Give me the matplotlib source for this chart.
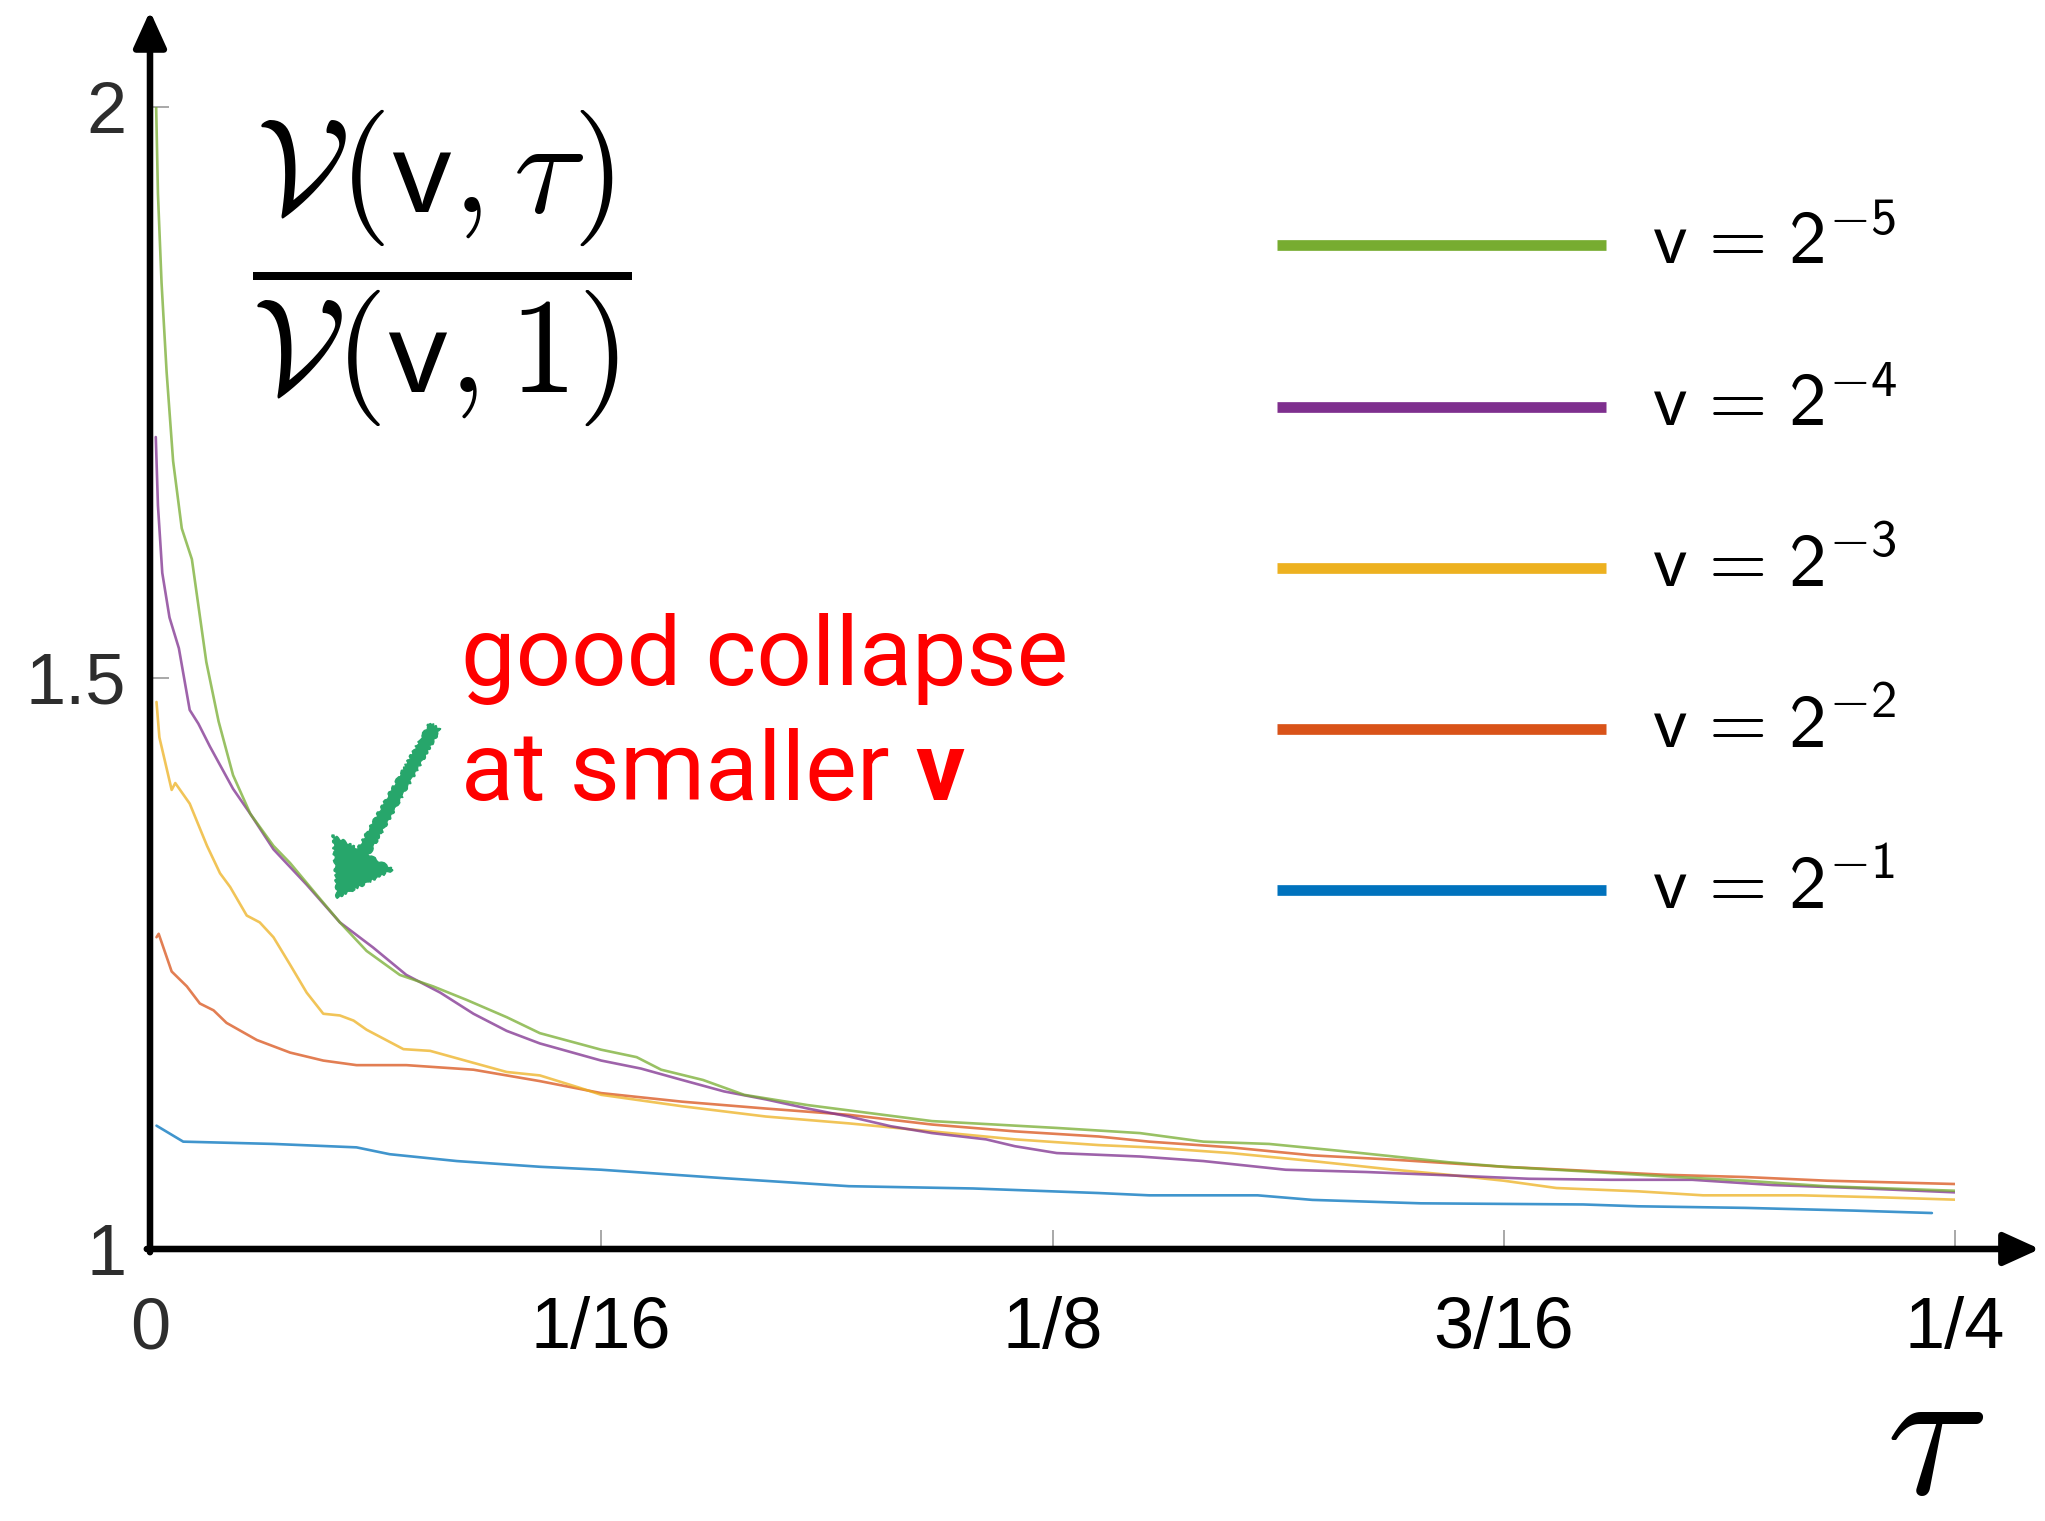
import matplotlib
matplotlib.use("Agg")
import matplotlib.pyplot as plt
from matplotlib.lines import Line2D

# ---- data: normalised variance V(v, tau) / V(v, 1) against tau ----
tau_g = [0.0008, 0.0011, 0.0016, 0.0023, 0.0032, 0.0044, 0.0058, 0.0078, 0.0095, 0.0115,
         0.0139, 0.0171, 0.0194, 0.0231, 0.0263, 0.0300, 0.0346, 0.0392, 0.0439, 0.0494,
         0.0540, 0.0625, 0.0674, 0.0708, 0.0766, 0.0823, 0.0911, 0.0997, 0.1083, 0.1170,
         0.1256, 0.1371, 0.1459, 0.1550, 0.1647, 0.1723, 0.1798, 0.1875, 0.1985, 0.2098,
         0.2210, 0.2323, 0.2500]
val_g = [2.016, 1.924, 1.846, 1.768, 1.690, 1.631, 1.604, 1.514, 1.462, 1.415,
         1.381, 1.353, 1.338, 1.310, 1.286, 1.261, 1.240, 1.230, 1.218, 1.203,
         1.189, 1.1745, 1.168, 1.157, 1.148, 1.135, 1.126, 1.119, 1.112, 1.109,
         1.106, 1.1015, 1.094, 1.092, 1.086, 1.081, 1.076, 1.072, 1.068, 1.0636,
         1.0598, 1.0549, 1.051]

tau_p = [0.0008, 0.0011, 0.0017, 0.0027, 0.0040, 0.0055, 0.0067, 0.0083, 0.0115, 0.0139,
         0.0171, 0.0217, 0.0263, 0.0309, 0.0355, 0.0402, 0.0448, 0.0494, 0.0540, 0.0625,
         0.0680, 0.0737, 0.0795, 0.0853, 0.0911, 0.0968, 0.1026, 0.1083, 0.1158, 0.1198,
         0.1256, 0.1371, 0.1459, 0.1573, 0.1685, 0.1798, 0.1910, 0.2023, 0.2136, 0.2248,
         0.2361, 0.2500]
val_p = [1.711, 1.651, 1.592, 1.553, 1.526, 1.472, 1.460, 1.440, 1.403, 1.381,
         1.350, 1.319, 1.286, 1.264, 1.240, 1.2245, 1.206, 1.191, 1.180, 1.165,
         1.158, 1.148, 1.138, 1.131, 1.123, 1.116, 1.1075, 1.1015, 1.096, 1.090,
         1.084, 1.081, 1.077, 1.0694, 1.0674, 1.0645, 1.0615, 1.0606, 1.0606, 1.056,
         1.0534, 1.0496]

tau_y = [0.0009, 0.0013, 0.0030, 0.0035, 0.0055, 0.0079, 0.0097, 0.0111, 0.0134, 0.0152,
         0.0171, 0.0194, 0.0217, 0.0240, 0.0263, 0.0282, 0.0300, 0.0351, 0.0388, 0.0448,
         0.0494, 0.0540, 0.0596, 0.0625, 0.0737, 0.0853, 0.0968, 0.1083, 0.1198, 0.1314,
         0.1384, 0.1497, 0.1610, 0.1723, 0.1798, 0.1875, 0.1948, 0.2061, 0.2151, 0.2286,
         0.2399, 0.2500]
val_y = [1.479, 1.448, 1.402, 1.408, 1.390, 1.353, 1.329, 1.317, 1.292, 1.286,
         1.273, 1.249, 1.2245, 1.206, 1.2045, 1.200, 1.192, 1.175, 1.1735, 1.163,
         1.155, 1.152, 1.141, 1.135, 1.125, 1.116, 1.110, 1.103, 1.096, 1.091,
         1.089, 1.084, 1.077, 1.0694, 1.065, 1.0598, 1.0534, 1.0505, 1.047, 1.047,
         1.0452, 1.0432]

tau_o = [0.0009, 0.0012, 0.0030, 0.0051, 0.0069, 0.0088, 0.0106, 0.0148, 0.0194, 0.0240,
         0.0286, 0.0355, 0.0448, 0.0540, 0.0625, 0.0737, 0.0853, 0.0968, 0.1083, 0.1198,
         0.1314, 0.1384, 0.1497, 0.1610, 0.1723, 0.1875, 0.1985, 0.2098, 0.2210, 0.2323,
         0.2500]
val_o = [1.273, 1.276, 1.243, 1.230, 1.215, 1.209, 1.198, 1.183, 1.172, 1.165,
         1.161, 1.161, 1.157, 1.147, 1.1365, 1.129, 1.123, 1.1175, 1.109, 1.103,
         1.0985, 1.094, 1.089, 1.082, 1.0782, 1.072, 1.0686, 1.065, 1.063, 1.0598,
         1.0569]

tau_b = [0.0009, 0.0046, 0.0171, 0.0286, 0.0332, 0.0425, 0.0540, 0.0625, 0.0795, 0.0968,
         0.1140, 0.1314, 0.1384, 0.1534, 0.1610, 0.1760, 0.1985, 0.2061, 0.2210, 0.2361,
         0.2468]
val_b = [1.108, 1.094, 1.092, 1.089, 1.083, 1.077, 1.072, 1.0694, 1.062, 1.055,
         1.053, 1.049, 1.047, 1.047, 1.043, 1.040, 1.039, 1.0374, 1.036, 1.0336,
         1.0315]

exponents = [-5, -4, -3, -2, -1]
colors = ["#77AC30", "#7E2F8E", "#EDB120", "#D95319", "#0072BD"]
series_tau = [tau_g, tau_p, tau_y, tau_o, tau_b]
series_val = [val_g, val_p, val_y, val_o, val_b]

x_ticks = [0, 1 / 16, 1 / 8, 3 / 16, 1 / 4]
x_labels = ["0", "1/16", "1/8", "3/16", "1/4"]
y_ticks = [1, 1.5, 2]
y_labels = ["1", "1.5", "2"]

# sans-serif Computer Modern for the legend labels (used via math_fontfamily="custom")
plt.rcParams["mathtext.rm"] = "cmss10"
plt.rcParams["mathtext.sf"] = "cmss10"
plt.rcParams["mathtext.it"] = "cmss10:italic"
plt.rcParams["mathtext.fallback"] = "cm"

# ---- figure ----
W, H = 2045, 1521
fig = plt.figure(figsize=(W / 100, H / 100), dpi=100)
fig.patch.set_facecolor("white")

ax = fig.add_axes([150 / W, 1 - 1249 / H, (1955 - 150) / W, (1249 - 107) / H])
ax.set_xlim(0, 0.25)
ax.set_ylim(1, 2)
for s in ax.spines.values():
    s.set_visible(False)

# curves: largest v first so the smallest v sits on top
for t, v, c in zip(series_tau[::-1], series_val[::-1], colors[::-1]):
    ax.plot(t, v, color=c, lw=1.9, alpha=0.75, solid_joinstyle="round",
            solid_capstyle="round")

ax.set_xticks(x_ticks, x_labels)
ax.set_yticks(y_ticks, y_labels)
ax.tick_params(axis="both", direction="in", length=14, width=1.4, color="#a8a8a8")
ax.tick_params(axis="x", pad=34, labelsize=52)
ax.tick_params(axis="y", pad=17, labelsize=52)
for lab in ax.get_xticklabels() + ax.get_yticklabels():
    lab.set_family("Liberation Sans")
for lab in ax.get_yticklabels():
    lab.set_color("#2d2d2d")
ax.get_xticklabels()[0].set_color("#2d2d2d")

# axis lines with arrowheads
arrow_kw = dict(arrowstyle="-|>,head_length=2.2,head_width=1.0", lw=4.7, color="black",
                mutation_scale=10, shrinkA=0, shrinkB=0)
ax.annotate("", xy=(0, 1.0840), xytext=(0, -3.2 / 1142), xycoords="axes fraction",
            arrowprops=arrow_kw, annotation_clip=False)
ax.annotate("", xy=(1.047, 0), xytext=(-3.2 / 1805, 0), xycoords="axes fraction",
            arrowprops=arrow_kw, annotation_clip=False)

# y label as a fraction
fig.text(442 / W, 1 - 268 / H,
         r"$\dfrac{\mathcal{V}(\mathsf{v},\tau)}{\mathcal{V}(\mathsf{v},1)}$",
         fontsize=97, ha="center", va="center", math_fontfamily="cm")

# x label
fig.text(1935 / W, 1 - 1494 / H, r"$\tau$", fontsize=135, ha="center", va="baseline",
         math_fontfamily="cm")

# legend drawn as separate line samples and labels
legend_y = [245, 407, 568, 729, 890]
for k, c, ly in zip(exponents, colors, legend_y):
    fig.add_artist(Line2D([1277 / W, 1606 / W], [1 - ly / H] * 2, lw=7.7, color=c,
                          solid_capstyle="butt"))
    fig.text(1652 / W, 1 - (ly + 19) / H, rf"$\mathrm{{v}}\,=\,2^{{{k}}}$",
             fontsize=54, va="baseline", math_fontfamily="custom")

# annotation
red_kw = dict(fontsize=70, color="red", family=["Roboto", "Liberation Sans"],
              va="baseline")
fig.text(461 / W, 1 - 685 / H, "good collapse", **red_kw)
t2 = fig.text(461 / W, 1 - 800 / H, "at smaller", **red_kw)
fig.canvas.draw()
bb = t2.get_window_extent()
space_px = 70 * 100 / 72 * 0.26
fig.text((bb.x1 + space_px) / W, 1 - 800 / H, "v", fontweight="bold", **red_kw)

ann = ax.annotate("", xy=(337, H - 898), xycoords="figure pixels",
                  xytext=(435, H - 726), textcoords="figure pixels",
                  arrowprops=dict(arrowstyle="simple,head_length=3.8,head_width=5,tail_width=0.9",
                                  color="#27a66b", mutation_scale=10, shrinkA=0, shrinkB=0),
                  annotation_clip=False)
ann.arrow_patch.set_sketch_params(scale=1.2, length=10, randomness=4)

fig.savefig("out.png", dpi=100, facecolor="white")
